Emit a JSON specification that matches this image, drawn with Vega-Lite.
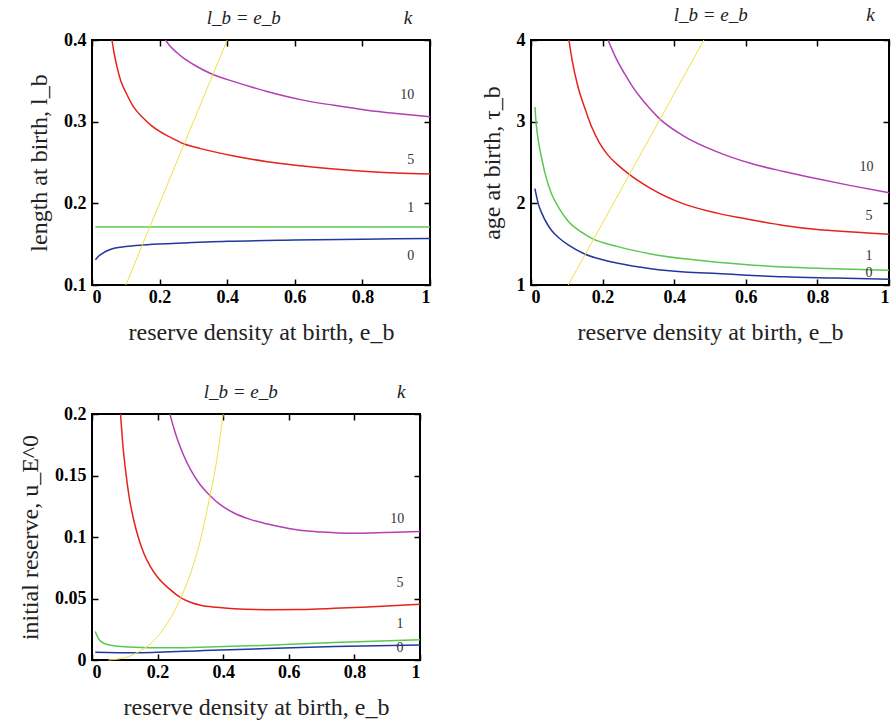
{
  "$schema": "https://vega.github.io/schema/vega-lite/v6.json",
  "background": "white",
  "padding": {"left": 17, "top": 4, "right": 4, "bottom": 4},
  "config": {
    "view": {"stroke": "black", "strokeWidth": 2},
    "axis": {
      "labelFont": "Liberation Serif", "labelFontSize": 18, "labelFontWeight": "bold", "labelColor": "black",
      "titleFont": "Liberation Serif", "titleFontSize": 24, "titleFontWeight": "normal", "titleColor": "#222",
      "domain": false, "grid": false, "ticks": true, "tickSize": -6, "tickColor": "black", "tickWidth": 1.5,
      "labelExpr": "datum.value"
    },
    "axisBottom": {"labelPadding": 9, "titlePadding": 14},
    "axisLeft": {"labelPadding": 12, "titlePadding": 12},
    "text": {"font": "Liberation Serif"}
  },
  "datasets": {
    "lb": [
      {"k":"0","e":0.01,"v":0.131},{"k":"0","e":0.02,"v":0.1355},{"k":"0","e":0.03,"v":0.1385},{"k":"0","e":0.054,"v":0.1435},{"k":"0","e":0.1,"v":0.147},{"k":"0","e":0.15,"v":0.149},{"k":"0","e":0.25,"v":0.151},{"k":"0","e":0.4,"v":0.1535},{"k":"0","e":0.6,"v":0.155},{"k":"0","e":0.8,"v":0.156},{"k":"0","e":1,"v":0.157},
      {"k":"1","e":0.01,"v":0.171},{"k":"1","e":1,"v":0.171},
      {"k":"5","e":0.059,"v":0.4},{"k":"5","e":0.065,"v":0.385},{"k":"5","e":0.074,"v":0.367},{"k":"5","e":0.085,"v":0.35},{"k":"5","e":0.1,"v":0.336},{"k":"5","e":0.123,"v":0.318},{"k":"5","e":0.15,"v":0.305},{"k":"5","e":0.173,"v":0.296},{"k":"5","e":0.2,"v":0.288},{"k":"5","e":0.222,"v":0.283},{"k":"5","e":0.271,"v":0.273},{"k":"5","e":0.321,"v":0.267},{"k":"5","e":0.42,"v":0.258},{"k":"5","e":0.518,"v":0.251},{"k":"5","e":0.617,"v":0.246},{"k":"5","e":0.716,"v":0.242},{"k":"5","e":0.814,"v":0.239},{"k":"5","e":0.9,"v":0.237},{"k":"5","e":1,"v":0.236},
      {"k":"10","e":0.217,"v":0.4},{"k":"10","e":0.23,"v":0.393},{"k":"10","e":0.25,"v":0.385},{"k":"10","e":0.27,"v":0.378},{"k":"10","e":0.3,"v":0.37},{"k":"10","e":0.356,"v":0.358},{"k":"10","e":0.42,"v":0.349},{"k":"10","e":0.518,"v":0.337},{"k":"10","e":0.617,"v":0.327},{"k":"10","e":0.716,"v":0.32},{"k":"10","e":0.814,"v":0.314},{"k":"10","e":0.9,"v":0.31},{"k":"10","e":1,"v":0.306},
      {"k":"eq","e":0.1,"v":0.1},{"k":"eq","e":0.4,"v":0.4}
    ],
    "tau": [
      {"k":"0","e":0.011,"v":2.18},{"k":"0","e":0.02,"v":2.0},{"k":"0","e":0.03,"v":1.88},{"k":"0","e":0.045,"v":1.75},{"k":"0","e":0.057,"v":1.67},{"k":"0","e":0.08,"v":1.57},{"k":"0","e":0.104,"v":1.49},{"k":"0","e":0.15,"v":1.38},{"k":"0","e":0.2,"v":1.31},{"k":"0","e":0.243,"v":1.265},{"k":"0","e":0.335,"v":1.2},{"k":"0","e":0.428,"v":1.16},{"k":"0","e":0.52,"v":1.14},{"k":"0","e":0.706,"v":1.1},{"k":"0","e":0.85,"v":1.085},{"k":"0","e":1,"v":1.07},
      {"k":"1","e":0.011,"v":3.18},{"k":"1","e":0.015,"v":2.95},{"k":"1","e":0.02,"v":2.78},{"k":"1","e":0.03,"v":2.55},{"k":"1","e":0.039,"v":2.37},{"k":"1","e":0.057,"v":2.12},{"k":"1","e":0.08,"v":1.93},{"k":"1","e":0.104,"v":1.78},{"k":"1","e":0.14,"v":1.65},{"k":"1","e":0.17,"v":1.57},{"k":"1","e":0.243,"v":1.47},{"k":"1","e":0.335,"v":1.38},{"k":"1","e":0.428,"v":1.32},{"k":"1","e":0.52,"v":1.28},{"k":"1","e":0.706,"v":1.22},{"k":"1","e":0.85,"v":1.2},{"k":"1","e":1,"v":1.18},
      {"k":"5","e":0.106,"v":4},{"k":"5","e":0.115,"v":3.75},{"k":"5","e":0.131,"v":3.43},{"k":"5","e":0.15,"v":3.17},{"k":"5","e":0.169,"v":2.94},{"k":"5","e":0.19,"v":2.75},{"k":"5","e":0.215,"v":2.59},{"k":"5","e":0.24,"v":2.48},{"k":"5","e":0.27,"v":2.37},{"k":"5","e":0.335,"v":2.18},{"k":"5","e":0.428,"v":1.99},{"k":"5","e":0.52,"v":1.88},{"k":"5","e":0.613,"v":1.8},{"k":"5","e":0.706,"v":1.73},{"k":"5","e":0.8,"v":1.68},{"k":"5","e":0.9,"v":1.65},{"k":"5","e":1,"v":1.62},
      {"k":"10","e":0.215,"v":4},{"k":"10","e":0.235,"v":3.8},{"k":"10","e":0.261,"v":3.59},{"k":"10","e":0.285,"v":3.42},{"k":"10","e":0.307,"v":3.29},{"k":"10","e":0.33,"v":3.17},{"k":"10","e":0.358,"v":3.04},{"k":"10","e":0.428,"v":2.82},{"k":"10","e":0.52,"v":2.63},{"k":"10","e":0.613,"v":2.49},{"k":"10","e":0.706,"v":2.39},{"k":"10","e":0.8,"v":2.3},{"k":"10","e":0.89,"v":2.22},{"k":"10","e":1,"v":2.13},
      {"k":"eq","e":0.104,"v":1},{"k":"eq","e":0.483,"v":4}
    ],
    "u": [
      {"k":"0","e":0.01,"v":0.0063},{"k":"0","e":0.127,"v":0.0058},{"k":"0","e":0.33,"v":0.0076},{"k":"0","e":0.535,"v":0.0093},{"k":"0","e":0.739,"v":0.0109},{"k":"0","e":1,"v":0.0123},
      {"k":"1","e":0.01,"v":0.0232},{"k":"1","e":0.015,"v":0.02},{"k":"1","e":0.02,"v":0.0172},{"k":"1","e":0.03,"v":0.0145},{"k":"1","e":0.046,"v":0.0126},{"k":"1","e":0.08,"v":0.0112},{"k":"1","e":0.127,"v":0.0104},{"k":"1","e":0.229,"v":0.0099},{"k":"1","e":0.33,"v":0.0104},{"k":"1","e":0.535,"v":0.012},{"k":"1","e":0.739,"v":0.0142},{"k":"1","e":1,"v":0.0164},
      {"k":"5","e":0.087,"v":0.2},{"k":"5","e":0.093,"v":0.178},{"k":"5","e":0.102,"v":0.155},{"k":"5","e":0.113,"v":0.133},{"k":"5","e":0.127,"v":0.114},{"k":"5","e":0.142,"v":0.099},{"k":"5","e":0.158,"v":0.0868},{"k":"5","e":0.178,"v":0.076},{"k":"5","e":0.199,"v":0.0677},{"k":"5","e":0.235,"v":0.058},{"k":"5","e":0.27,"v":0.0508},{"k":"5","e":0.3,"v":0.047},{"k":"5","e":0.331,"v":0.0445},{"k":"5","e":0.38,"v":0.0428},{"k":"5","e":0.433,"v":0.0417},{"k":"5","e":0.535,"v":0.0409},{"k":"5","e":0.637,"v":0.0411},{"k":"5","e":0.739,"v":0.042},{"k":"5","e":0.841,"v":0.0431},{"k":"5","e":1,"v":0.0453},
      {"k":"10","e":0.2375,"v":0.2},{"k":"10","e":0.25,"v":0.188},{"k":"10","e":0.265,"v":0.176},{"k":"10","e":0.28,"v":0.166},{"k":"10","e":0.3,"v":0.155},{"k":"10","e":0.33,"v":0.1425},{"k":"10","e":0.36,"v":0.1335},{"k":"10","e":0.39,"v":0.1265},{"k":"10","e":0.433,"v":0.1195},{"k":"10","e":0.48,"v":0.1145},{"k":"10","e":0.535,"v":0.1105},{"k":"10","e":0.6,"v":0.107},{"k":"10","e":0.65,"v":0.105},{"k":"10","e":0.7,"v":0.104},{"k":"10","e":0.75,"v":0.1033},{"k":"10","e":0.8,"v":0.1031},{"k":"10","e":0.85,"v":0.1033},{"k":"10","e":0.9,"v":0.1037},{"k":"10","e":1,"v":0.1045},
      {"k":"eq","e":0.05,"v":0},{"k":"eq","e":0.08,"v":0.0008},{"k":"eq","e":0.1,"v":0.0018},{"k":"eq","e":0.13,"v":0.005},{"k":"eq","e":0.16,"v":0.0095},{"k":"eq","e":0.2,"v":0.019},{"k":"eq","e":0.23,"v":0.03},{"k":"eq","e":0.27,"v":0.05},{"k":"eq","e":0.3,"v":0.07},{"k":"eq","e":0.33,"v":0.097},{"k":"eq","e":0.36,"v":0.134},{"k":"eq","e":0.38,"v":0.162},{"k":"eq","e":0.4,"v":0.2}
    ],
    "labels": [
      {"p":"lb","kind":"curve","e":0.933,"v":0.333,"t":"10"},{"p":"lb","kind":"curve","e":0.943,"v":0.253,"t":"5"},{"p":"lb","kind":"curve","e":0.943,"v":0.194,"t":"1"},{"p":"lb","kind":"curve","e":0.943,"v":0.135,"t":"0"},
      {"p":"lb","kind":"head","e":0.449,"v":0.4265,"t":"l_b = e_b"},{"p":"lb","kind":"head","e":0.935,"v":0.4265,"t":"k"},
      {"p":"tau","kind":"curve","e":0.937,"v":2.45,"t":"10"},{"p":"tau","kind":"curve","e":0.944,"v":1.845,"t":"5"},{"p":"tau","kind":"curve","e":0.944,"v":1.35,"t":"1"},{"p":"tau","kind":"curve","e":0.944,"v":1.15,"t":"0"},
      {"p":"tau","kind":"head","e":0.502,"v":4.31,"t":"l_b = e_b"},{"p":"tau","kind":"head","e":0.948,"v":4.31,"t":"k"},
      {"p":"u","kind":"curve","e":0.931,"v":0.115,"t":"10"},{"p":"u","kind":"curve","e":0.939,"v":0.0622,"t":"5"},{"p":"u","kind":"curve","e":0.939,"v":0.0289,"t":"1"},{"p":"u","kind":"curve","e":0.939,"v":0.0098,"t":"0"},
      {"p":"u","kind":"head","e":0.4536,"v":0.2177,"t":"l_b = e_b"},{"p":"u","kind":"head","e":0.943,"v":0.2177,"t":"k"}
    ]
  },
  "columns": 2,
  "spacing": {"column": 101, "row": 129},
  "bounds": "flush",
  "concat": [
    {
      "width": 338, "height": 245,
      "layer": [
        {"data": {"name": "lb"}, "mark": {"type": "line", "strokeWidth": 1.5, "interpolate": "monotone"},
         "transform": [{"filter": "datum.k != 'eq'"}],
         "encoding": {
           "x": {"field": "e", "type": "quantitative", "scale": {"domain": [0, 1]}, "axis": {"orient": "bottom", "values": [0, 0.2, 0.4, 0.6, 0.8, 1], "title": "reserve density at birth, e_b"}},
           "y": {"field": "v", "type": "quantitative", "scale": {"domain": [0.1, 0.4]}, "axis": {"orient": "left", "values": [0.1, 0.2, 0.3, 0.4], "title": "length at birth, l_b"}},
           "color": {"field": "k", "type": "nominal", "scale": {"domain": ["0", "1", "5", "10", "eq"], "range": ["#2238a0", "#5ac84e", "#e5231b", "#b43fb4", "#f0e040"]}, "legend": null}
         }},
        {"data": {"name": "lb"}, "mark": {"type": "line", "strokeWidth": 1, "color": "#f0e040"},
         "transform": [{"filter": "datum.k == 'eq'"}],
         "encoding": {
           "x": {"field": "e", "type": "quantitative", "axis": {"orient": "top", "values": [0, 0.2, 0.4, 0.6, 0.8, 1], "labels": false, "title": null}},
           "y": {"field": "v", "type": "quantitative", "axis": {"orient": "right", "values": [0.1, 0.2, 0.3, 0.4], "labels": false, "title": null}}
         }},
        {"data": {"name": "labels"}, "transform": [{"filter": "datum.p == 'lb' && datum.kind == 'curve'"}],
         "mark": {"type": "text", "fontSize": 14, "color": "#333"},
         "encoding": {"x": {"field": "e", "type": "quantitative", "axis": null}, "y": {"field": "v", "type": "quantitative", "axis": null}, "text": {"field": "t"}}},
        {"data": {"name": "labels"}, "transform": [{"filter": "datum.p == 'lb' && datum.kind == 'head'"}],
         "mark": {"type": "text", "fontSize": 19, "fontStyle": "italic", "color": "#222"},
         "encoding": {"x": {"field": "e", "type": "quantitative", "axis": null}, "y": {"field": "v", "type": "quantitative", "axis": null}, "text": {"field": "t"}}}
      ],
      "resolve": {"axis": {"x": "independent", "y": "independent"}}
    },
    {
      "width": 358, "height": 245,
      "layer": [
        {"data": {"name": "tau"}, "mark": {"type": "line", "strokeWidth": 1.5, "interpolate": "monotone"},
         "transform": [{"filter": "datum.k != 'eq'"}],
         "encoding": {
           "x": {"field": "e", "type": "quantitative", "scale": {"domain": [0, 1]}, "axis": {"orient": "bottom", "values": [0, 0.2, 0.4, 0.6, 0.8, 1], "title": "reserve density at birth, e_b"}},
           "y": {"field": "v", "type": "quantitative", "scale": {"domain": [1, 4]}, "axis": {"orient": "left", "values": [1, 2, 3, 4], "title": "age at birth, τ_b"}},
           "color": {"field": "k", "type": "nominal", "scale": {"domain": ["0", "1", "5", "10", "eq"], "range": ["#2238a0", "#5ac84e", "#e5231b", "#b43fb4", "#f0e040"]}, "legend": null}
         }},
        {"data": {"name": "tau"}, "mark": {"type": "line", "strokeWidth": 1, "color": "#f0e040"},
         "transform": [{"filter": "datum.k == 'eq'"}],
         "encoding": {
           "x": {"field": "e", "type": "quantitative", "axis": {"orient": "top", "values": [0, 0.2, 0.4, 0.6, 0.8, 1], "labels": false, "title": null}},
           "y": {"field": "v", "type": "quantitative", "axis": {"orient": "right", "values": [1, 2, 3, 4], "labels": false, "title": null}}
         }},
        {"data": {"name": "labels"}, "transform": [{"filter": "datum.p == 'tau' && datum.kind == 'curve'"}],
         "mark": {"type": "text", "fontSize": 14, "color": "#333"},
         "encoding": {"x": {"field": "e", "type": "quantitative", "axis": null}, "y": {"field": "v", "type": "quantitative", "axis": null}, "text": {"field": "t"}}},
        {"data": {"name": "labels"}, "transform": [{"filter": "datum.p == 'tau' && datum.kind == 'head'"}],
         "mark": {"type": "text", "fontSize": 19, "fontStyle": "italic", "color": "#222"},
         "encoding": {"x": {"field": "e", "type": "quantitative", "axis": null}, "y": {"field": "v", "type": "quantitative", "axis": null}, "text": {"field": "t"}}}
      ],
      "resolve": {"axis": {"x": "independent", "y": "independent"}}
    },
    {
      "width": 328, "height": 246,
      "layer": [
        {"data": {"name": "u"}, "mark": {"type": "line", "strokeWidth": 1.5, "interpolate": "monotone"},
         "transform": [{"filter": "datum.k != 'eq'"}],
         "encoding": {
           "x": {"field": "e", "type": "quantitative", "scale": {"domain": [0, 1]}, "axis": {"orient": "bottom", "values": [0, 0.2, 0.4, 0.6, 0.8, 1], "title": "reserve density at birth, e_b"}},
           "y": {"field": "v", "type": "quantitative", "scale": {"domain": [0, 0.2]}, "axis": {"orient": "left", "values": [0, 0.05, 0.1, 0.15, 0.2], "title": "initial reserve, u_E^0"}},
           "color": {"field": "k", "type": "nominal", "scale": {"domain": ["0", "1", "5", "10", "eq"], "range": ["#2238a0", "#5ac84e", "#e5231b", "#b43fb4", "#f0e040"]}, "legend": null}
         }},
        {"data": {"name": "u"}, "mark": {"type": "line", "strokeWidth": 1, "color": "#f0e040", "interpolate": "monotone"},
         "transform": [{"filter": "datum.k == 'eq'"}],
         "encoding": {
           "x": {"field": "e", "type": "quantitative", "axis": {"orient": "top", "values": [0, 0.2, 0.4, 0.6, 0.8, 1], "labels": false, "title": null}},
           "y": {"field": "v", "type": "quantitative", "axis": {"orient": "right", "values": [0, 0.05, 0.1, 0.15, 0.2], "labels": false, "title": null}}
         }},
        {"data": {"name": "labels"}, "transform": [{"filter": "datum.p == 'u' && datum.kind == 'curve'"}],
         "mark": {"type": "text", "fontSize": 14, "color": "#333"},
         "encoding": {"x": {"field": "e", "type": "quantitative", "axis": null}, "y": {"field": "v", "type": "quantitative", "axis": null}, "text": {"field": "t"}}},
        {"data": {"name": "labels"}, "transform": [{"filter": "datum.p == 'u' && datum.kind == 'head'"}],
         "mark": {"type": "text", "fontSize": 19, "fontStyle": "italic", "color": "#222"},
         "encoding": {"x": {"field": "e", "type": "quantitative", "axis": null}, "y": {"field": "v", "type": "quantitative", "axis": null}, "text": {"field": "t"}}}
      ],
      "resolve": {"axis": {"x": "independent", "y": "independent"}}
    }
  ]
}
